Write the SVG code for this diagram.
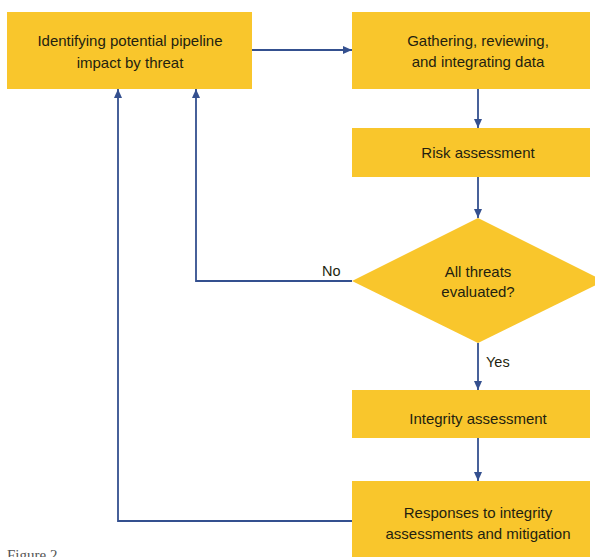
<svg xmlns="http://www.w3.org/2000/svg" width="595" height="557" viewBox="0 0 595 557">
<style>
.box{fill:#F9C62C}
.t{font-family:"Liberation Sans",Arial,sans-serif;font-size:15px;fill:#231f10;text-anchor:middle}
.lbl{font-family:"Liberation Sans",Arial,sans-serif;font-size:14.5px;fill:#231f10}
.c{fill:none;stroke:#34508F;stroke-width:1.8}
</style>
<defs>
<marker id="ah" viewBox="0 0 10 10" refX="10" refY="5" markerWidth="9" markerHeight="8" orient="auto" markerUnits="userSpaceOnUse" preserveAspectRatio="none">
<path d="M0,0 L10,5 L0,10 z" fill="#34508F"/>
</marker>
</defs>
<rect width="595" height="557" fill="#fff"/>
<g id="connectors">
<line class="c" x1="252" y1="50" x2="352" y2="50" marker-end="url(#ah)"/>
<line class="c" x1="478" y1="89" x2="478" y2="128" marker-end="url(#ah)"/>
<line class="c" x1="478" y1="177" x2="478" y2="218" marker-end="url(#ah)"/>
<polyline class="c" points="352,281 196,281 196,89" marker-end="url(#ah)"/>
<line class="c" x1="478" y1="343" x2="478" y2="390" marker-end="url(#ah)"/>
<line class="c" x1="478" y1="438" x2="478" y2="481" marker-end="url(#ah)"/>
<polyline class="c" points="352,521 118,521 118,89" marker-end="url(#ah)"/>
<text class="lbl" x="322" y="276">No</text>
<text class="lbl" x="486" y="367">Yes</text>
</g>
<g id="n1">
<rect class="box" x="7" y="12" width="245" height="77"/>
<text class="t" x="130" y="46">Identifying potential pipeline</text>
<text class="t" x="130" y="68">impact by threat</text>
</g>
<g id="n2">
<rect class="box" x="352" y="12" width="238" height="77"/>
<text class="t" x="478" y="46">Gathering, reviewing,</text>
<text class="t" x="478" y="67">and integrating data</text>
</g>
<g id="n3">
<rect class="box" x="352" y="128" width="238" height="49"/>
<text class="t" x="478" y="158">Risk assessment</text>
</g>
<g id="n4">
<polygon class="box" points="478,218 604,281 478,343 352,281"/>
<text class="t" x="478" y="277">All threats</text>
<text class="t" x="478" y="297">evaluated?</text>
</g>
<g id="n5">
<rect class="box" x="352" y="390" width="238" height="48"/>
<text class="t" x="478" y="424">Integrity assessment</text>
</g>
<g id="n6">
<rect class="box" x="352" y="481" width="238" height="76"/>
<text class="t" x="478" y="518">Responses to integrity</text>
<text class="t" x="478" y="539">assessments and mitigation</text>
</g>
<text x="7" y="560" font-family="Liberation Serif,serif" font-size="15" fill="#555">Figure 2</text>
</svg>
